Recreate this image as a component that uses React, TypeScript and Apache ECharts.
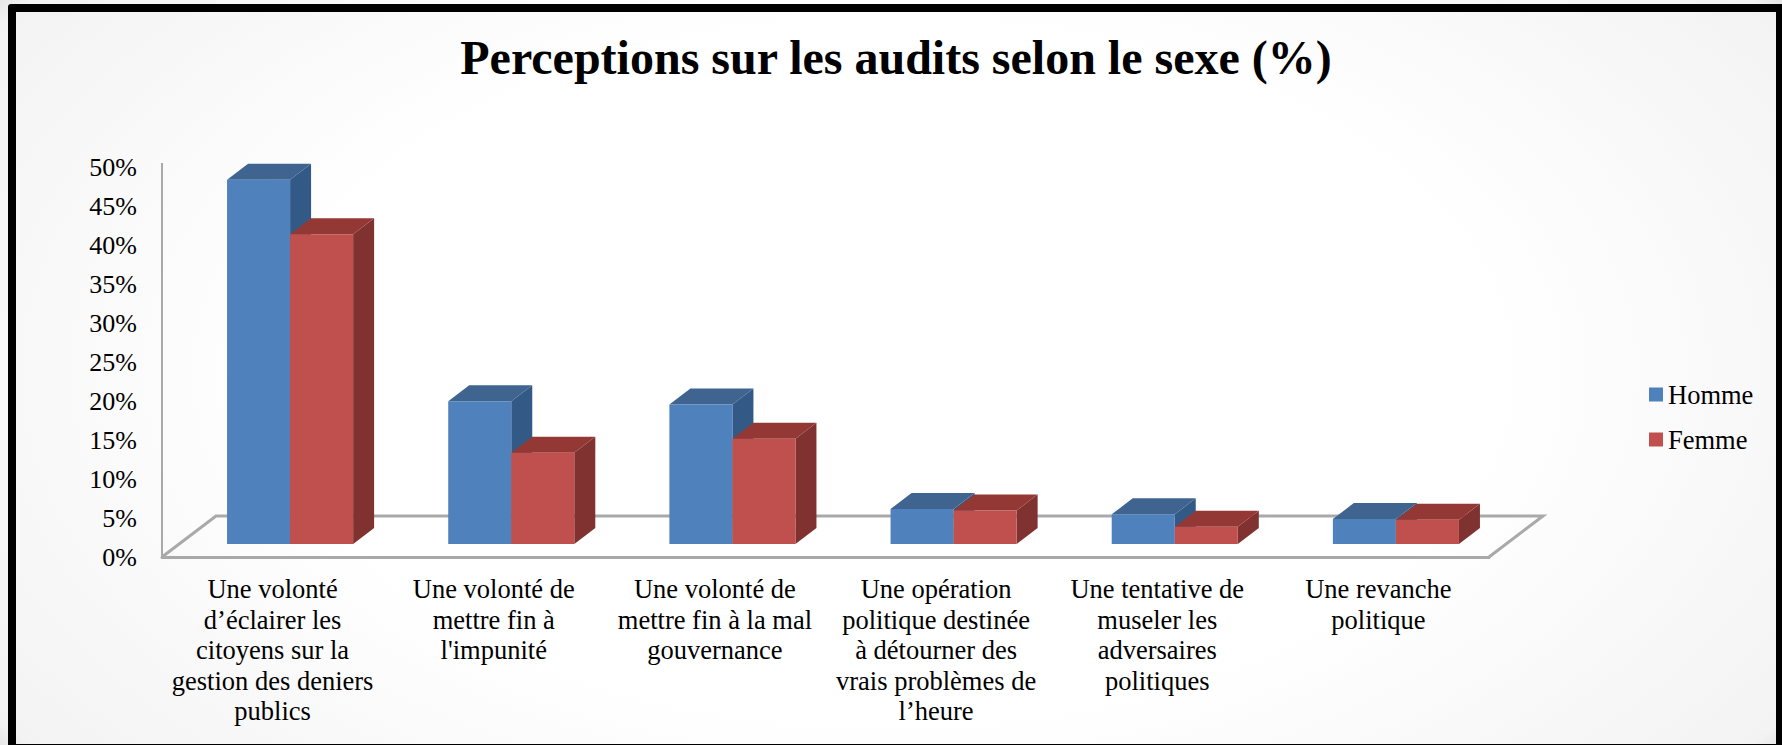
import React, { useEffect, useRef } from "react";
import * as echarts from "echarts";

const title = "Perceptions sur les audits selon le sexe (%)";
const categories = [
  "Une volonté\nd’éclairer les\ncitoyens sur la\ngestion des deniers\npublics",
  "Une volonté de\nmettre fin à\nl'impunité",
  "Une volonté de\nmettre fin à la mal\ngouvernance",
  "Une opération\npolitique destinée\nà détourner des\nvrais problèmes de\nl’heure",
  "Une tentative de\nmuseler les\nadversaires\npolitiques",
  "Une revanche\npolitique",
];
const homme = [46.7, 18.3, 17.9, 4.5, 3.8, 3.2];
const femme = [39.7, 11.7, 13.5, 4.3, 2.2, 3.1];

const FONT = '"Liberation Serif", "Times New Roman", serif';
const DEPTH_X = 21;
const DEPTH_Y = 16;
const SHIFT_X = 17.5;
const SHIFT_Y = 13;
const BAR_RATIO = 0.285;

function barRender(offset: number, front: string, top: string, side: string) {
  return (_params: any, api: any) => {
    const base = api.coord([api.value(0), 0]);
    const head = api.coord([api.value(0), api.value(1)]);
    const w = api.size([1, 0])[0] * BAR_RATIO;
    const x0 = base[0] + SHIFT_X + offset * w;
    const x1 = x0 + w;
    const yb = base[1] - SHIFT_Y;
    const yt = head[1] - SHIFT_Y;
    return {
      type: "group",
      children: [
        {
          type: "polygon",
          shape: { points: [[x1, yb], [x1 + DEPTH_X, yb - DEPTH_Y], [x1 + DEPTH_X, yt - DEPTH_Y], [x1, yt]] },
          style: { fill: side },
        },
        {
          type: "polygon",
          shape: { points: [[x0, yt], [x0 + DEPTH_X, yt - DEPTH_Y], [x1 + DEPTH_X, yt - DEPTH_Y], [x1, yt]] },
          style: { fill: top },
        },
        { type: "rect", shape: { x: x0, y: yt, width: w, height: yb - yt }, style: { fill: front } },
      ],
    };
  };
}

function floorRender(params: any) {
  const c = params.coordSys;
  const yf = c.y + c.height;
  const dx = 54;
  const dy = 41;
  return {
    type: "group",
    children: [
      {
        type: "polyline",
        shape: { points: [[c.x, yf], [c.x + dx, yf - dy], [c.x + c.width + dx, yf - dy], [c.x + c.width, yf]] },
        style: { stroke: "#A9A9A9", lineWidth: 3, fill: "none" },
      },
      {
        type: "line",
        shape: { x1: c.x, y1: c.y - 4, x2: c.x, y2: yf },
        style: { stroke: "#A9A9A9", lineWidth: 2 },
      },
    ],
  };
}

export default function App() {
  const ref = useRef<HTMLDivElement>(null);
  useEffect(() => {
    const chart = echarts.init(ref.current!, null, { renderer: "svg" });
    chart.setOption({
      animation: false,
      backgroundColor: "transparent",
      title: {
        text: title,
        left: 891,
        top: 28,
        textAlign: "center",
        textStyle: { fontFamily: FONT, fontWeight: "bold", fontSize: 48, color: "#000" },
      },
      legend: {
        orient: "vertical",
        left: 1649,
        top: 381,
        padding: 0,
        icon: "rect",
        itemWidth: 14,
        itemHeight: 14,
        itemGap: 18,
        data: ["Homme", "Femme"],
        textStyle: { fontFamily: FONT, fontSize: 26.5, color: "#000" },
      },
      grid: { left: 162, top: 167, width: 1327, height: 390 },
      xAxis: {
        type: "category",
        data: categories,
        axisLine: { show: true, lineStyle: { color: "#A9A9A9", width: 3 } },
        axisTick: { show: false },
        axisLabel: {
          interval: 0,
          margin: 17,
          fontFamily: FONT,
          fontSize: 26.5,
          lineHeight: 30.5,
          color: "#000",
          verticalAlign: "top",
        },
      },
      yAxis: {
        type: "value",
        min: 0,
        max: 50,
        interval: 5,
        axisLine: { show: false },
        axisTick: { show: false },
        splitLine: { show: false },
        axisLabel: {
          margin: 25,
          fontFamily: FONT,
          fontSize: 26,
          color: "#000",
          padding: [0, 0, 3, 0],
          formatter: "{value}%",
        },
      },
      series: [
        {
          name: "floor",
          type: "custom",
          z: 1,
          silent: true,
          renderItem: floorRender,
          data: [[0, 0]],
          encode: { x: 0, y: 1 },
        },
        {
          name: "Homme",
          type: "custom",
          z: 2,
          itemStyle: { color: "#4F81BD" },
          renderItem: barRender(-1, "#4F81BD", "#3F6490", "#335A87"),
          data: homme.map((v, i) => [i, v]),
          encode: { x: 0, y: 1 },
        },
        {
          name: "Femme",
          type: "custom",
          z: 3,
          itemStyle: { color: "#C0504D" },
          renderItem: barRender(0, "#C0504D", "#943836", "#7F3230"),
          data: femme.map((v, i) => [i, v]),
          encode: { x: 0, y: 1 },
        },
      ],
    });
    return () => chart.dispose();
  }, []);

  return (
    <div
      style={{
        position: "absolute",
        left: 0,
        top: 0,
        width: 1782,
        height: 745,
        overflow: "hidden",
        background: "radial-gradient(ellipse 62% 85% at 50% 50%, #ffffff 55%, #f3f3f3 97.5%, #e6e6e6 100%)",
      }}
    >
      <div
        style={{
          position: "absolute",
          left: 8,
          top: 4,
          width: 1760,
          height: 732,
          border: "8px solid #000",
          borderRadius: 3,
        }}
      />
      <div ref={ref} style={{ position: "absolute", left: 0, top: 0, width: 1782, height: 745 }} />
    </div>
  );
}
